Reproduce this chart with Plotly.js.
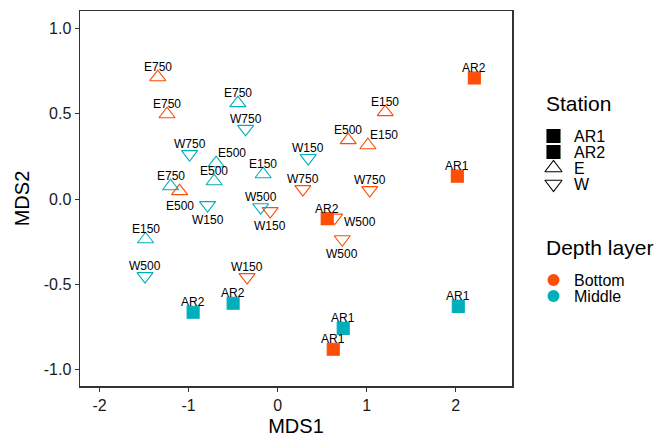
<!DOCTYPE html>
<html>
<head>
<meta charset="utf-8">
<script src="https://cdn.plot.ly/plotly-3.0.1.min.js"></script>
<style>html,body{margin:0;padding:0;background:#fff;}#chart{width:655px;height:438px;}</style>
</head>
<body>
<div id="chart"></div>
<script>
// ---- data ----
const siteLabels = ["E750","E750","E500","E500","E150","E150","W750","W750","W500","W500","W150","W150","AR1","AR1","AR2","AR2",
                    "E750","E750","E500","E500","E150","E150","W750","W750","W150","W150","W500","W500","AR1","AR1","AR2","AR2"];
const station    = ["E","E","E","E","E","E","W","W","W","W","W","W","AR1","AR1","AR2","AR2",
                    "E","E","E","E","E","E","W","W","W","W","W","W","AR1","AR1","AR2","AR2"];
const depthLayer = ["Bottom","Bottom","Bottom","Bottom","Bottom","Bottom","Bottom","Bottom","Bottom","Bottom","Bottom","Bottom","Bottom","Bottom","Bottom","Bottom",
                    "Middle","Middle","Middle","Middle","Middle","Middle","Middle","Middle","Middle","Middle","Middle","Middle","Middle","Middle","Middle","Middle"];
const mds1 = [-1.346,-1.242,-1.101,0.792,1.013,1.208,0.283,1.034,0.640,0.725,-0.084,-0.343,2.017,0.624,2.208,0.556,
              -0.447,-1.202,-0.691,-0.713,-0.163,-1.483,-0.360,-0.989,0.343,-0.787,-0.191,-1.489,0.736,2.028,-0.949,-0.500];
const mds2 = [0.715,0.498,0.047,0.346,0.316,0.510,0.059,0.053,-0.108,-0.235,-0.070,-0.457,0.135,-0.880,0.710,-0.114,
              0.563,0.076,0.211,0.105,0.146,-0.235,0.412,0.264,0.241,-0.035,-0.047,-0.451,-0.757,-0.628,-0.663,-0.610];
// side of the point on which each text label sits (t = top, b = bottom, r = right, tr = top-right)
const labelSide = ["t","t","b","t","tr","t","t","t","r","b","b","t","t","t","t","t",
                   "t","t","tr","t","t","t","t","t","t","b","t","t","t","t","t","t"];
const stationLevels = ["AR1","AR2","E","W"];
const depthLevels = ["Bottom","Middle"];
const legendTitles = ["Station","Depth layer"];

// ---- styles ----
const depthColors = {Bottom:"#FC4E07", Middle:"#00AFBB"};
const stationSymbols = {AR1:"square", AR2:"square", E:"triangle-up-open", W:"triangle-down-open"};
const stationSizes = {AR1:12, AR2:12, E:14, W:14};
const sideShift = {t:[0,10], b:[0,-15], r:[25,-4], tr:[16,10]};
const FONT = "Liberation Sans, Arial, sans-serif";

// legend panel geometry (legend axis x in pixels, y in legend rows)
const LEG = {titleX:543.5, symX:553.5, textX:571.5, gap:2, groupGap:4};

const traces = [];
depthLevels.forEach(function(d){
  const idx = mds1.map((_,i)=>i).filter(i=>depthLayer[i]===d);
  traces.push({
    type:"scatter", mode:"markers", showlegend:false, hoverinfo:"skip",
    x: idx.map(i=>mds1[i]), y: idx.map(i=>mds2[i]),
    marker:{color:depthColors[d], opacity:1, symbol: idx.map(i=>stationSymbols[station[i]]),
            size: idx.map(i=>stationSizes[station[i]]),
            line:{color:depthColors[d], width:1.1}}
  });
});

// ---- custom legend drawn on its own axes ----
const stationRows = stationLevels.map((_,i)=>i);
const depthTitleRow = stationLevels.length - 1 + LEG.groupGap;
const depthRows = depthLevels.map((_,i)=>depthTitleRow + LEG.gap + i);
const titleRows = [-LEG.gap, depthTitleRow];

traces.push({type:"scatter", mode:"markers", xaxis:"x2", yaxis:"y2", showlegend:false, hoverinfo:"skip",
  x: stationLevels.map(()=>LEG.symX), y: stationRows,
  marker:{color:"#000", opacity:1, symbol: stationLevels.map(s=>stationSymbols[s]),
          size: stationLevels.map(s=>stationSizes[s]+1), line:{color:"#000", width:1.1}}});
traces.push({type:"scatter", mode:"markers", xaxis:"x2", yaxis:"y2", showlegend:false, hoverinfo:"skip",
  x: depthLevels.map(()=>LEG.symX), y: depthRows,
  marker:{color: depthLevels.map(d=>depthColors[d]), opacity:1, symbol:"circle", size:12}});

const annotations = mds1.map(function(x,i){
  const s = sideShift[labelSide[i]];
  return {x:x, y:mds2[i], xref:"x", yref:"y", text:siteLabels[i], showarrow:false,
    xanchor:"center", yanchor:"middle", xshift:s[0], yshift:s[1],
    font:{family:FONT, size:12, color:"#000"}};
});
stationLevels.forEach(function(s,i){
  annotations.push({x:LEG.textX, y:stationRows[i], xref:"x2", yref:"y2", text:s, showarrow:false,
    xanchor:"left", yanchor:"middle", font:{family:FONT, size:16, color:"#000"}});
});
depthLevels.forEach(function(d,i){
  annotations.push({x:LEG.textX, y:depthRows[i], xref:"x2", yref:"y2", text:d, showarrow:false,
    xanchor:"left", yanchor:"middle", font:{family:FONT, size:16, color:"#000"}});
});
legendTitles.forEach(function(t,i){
  annotations.push({x:LEG.titleX, y:titleRows[i], xref:"x2", yref:"y2", text:t, showarrow:false,
    xanchor:"left", yanchor:"middle", yshift:1, font:{family:FONT, size:21, color:"#000"}});
});

const axisCommon = {showgrid:false, zeroline:false, showline:true, mirror:true,
  linecolor:"#333333", linewidth:1.5, ticks:"outside", ticklen:4, tickwidth:1.2, tickcolor:"#333333",
  tickfont:{family:FONT, size:16, color:"#1a1a1a"}};

const W = 655, ML = 80, PLOT_W = 432;
const TOP = 11, BOT = 386, ROW0 = 136, ROW_H = 16;
const legLeft = 517;

const layout = {
  width:W, height:438,
  margin:{l:ML, r:0, t:TOP, b:438-BOT},
  paper_bgcolor:"#fff", plot_bgcolor:"rgba(0,0,0,0)",
  font:{family:FONT, color:"#000"},
  showlegend:false,
  xaxis:Object.assign({}, axisCommon, {domain:[0, PLOT_W/(W-ML)], range:[-2.219,2.631],
    tickvals:[-2,-1,0,1,2], ticktext:["-2","-1","0","1","2"],
    title:{text:"MDS1", font:{family:FONT, size:20, color:"#000"}, standoff:6}}),
  yaxis:Object.assign({}, axisCommon, {range:[-1.095,1.103], tickvals:[-1,-0.5,0,0.5,1], ticktext:["-1.0","-0.5","0.0","0.5","1.0"],
    title:{text:"MDS2", font:{family:FONT, size:20, color:"#000"}, standoff:8}}),
  xaxis2:{domain:[(legLeft-ML)/(W-ML), 1], range:[legLeft, W], visible:false, fixedrange:true, anchor:"y2"},
  yaxis2:{domain:[0,1], range:[(BOT-ROW0)/ROW_H, (TOP-ROW0)/ROW_H], visible:false, fixedrange:true, anchor:"x2"},
  annotations:annotations
};

Plotly.newPlot("chart", traces, layout, {displayModeBar:false, staticPlot:true});
</script>
</body>
</html>
